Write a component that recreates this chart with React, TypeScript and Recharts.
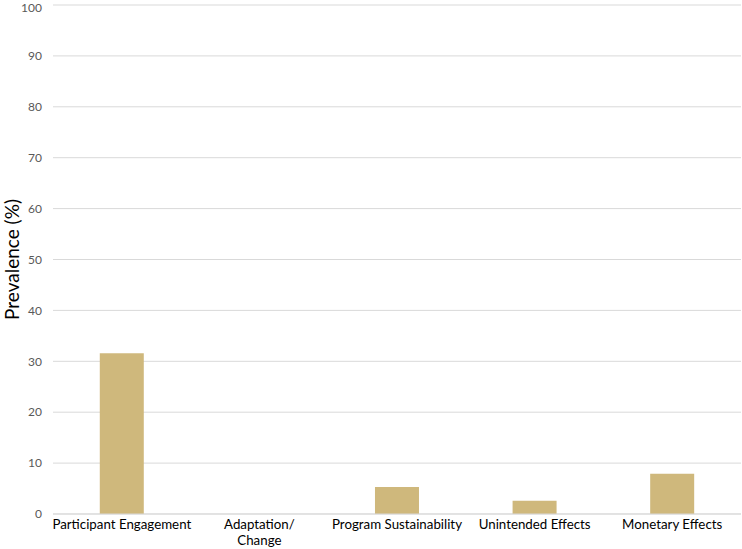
import React from 'react';
import { BarChart, Bar, XAxis, YAxis, CartesianGrid, Label } from 'recharts';

const categories = [
  'Participant Engagement',
  'Adaptation/ Change',
  'Program Sustainability',
  'Unintended Effects',
  'Monetary Effects',
];
const prevalence = [31.6, 0, 5.3, 2.6, 7.9];
const yTicks = [0, 10, 20, 30, 40, 50, 60, 70, 80, 90, 100];

const data = categories.map((name, i) => ({ name, value: prevalence[i] }));

const FONT = 'Lato, "Open Sans", sans-serif';

function CategoryTick(props: any) {
  const { x, y, payload } = props;
  const text: string = payload.value;
  const lines = text.includes('/ ') ? [text.split('/ ')[0] + '/', text.split('/ ')[1]] : [text];
  return (
    <g transform={`translate(${x},${y})`}>
      {lines.map((line, i) => (
        <text
          key={i}
          x={0}
          y={7 + i * 16}
          textAnchor="middle"
          fill="#000"
          fontSize={13.3}
          fontFamily={FONT}
        >
          {line}
        </text>
      ))}
    </g>
  );
}

export default function App() {
  return (
    <div style={{ position: 'absolute', left: 0, top: 0, background: '#fff' }}>
      <BarChart
        width={742}
        height={549}
        data={data}
        margin={{ top: 5, right: 1, left: 0, bottom: 0 }}
        barCategoryGap="34%"
      >
        <CartesianGrid vertical={false} stroke="#d9d9d9" strokeWidth={1} />
        <XAxis
          dataKey="name"
          interval={0}
          tick={<CategoryTick />}
          tickLine={false}
          axisLine={{ stroke: '#d9d9d9' }}
          height={35}
        />
        <YAxis
          domain={[0, 100]}
          ticks={yTicks}
          width={53}
          tickLine={false}
          axisLine={false}
          tickSize={0}
          tickMargin={11}
          tick={{ fill: '#595959', fontSize: 12, fontFamily: FONT }}
        >
          <Label
            value="Prevalence (%)"
            angle={-90}
            position="insideLeft"
            offset={0}
            style={{ textAnchor: 'middle', fill: '#000', fontSize: 19, fontFamily: FONT }}
            dx={12}
          />
        </YAxis>
        <Bar dataKey="value" fill="#cfb87c" isAnimationActive={false} />
      </BarChart>
    </div>
  );
}
